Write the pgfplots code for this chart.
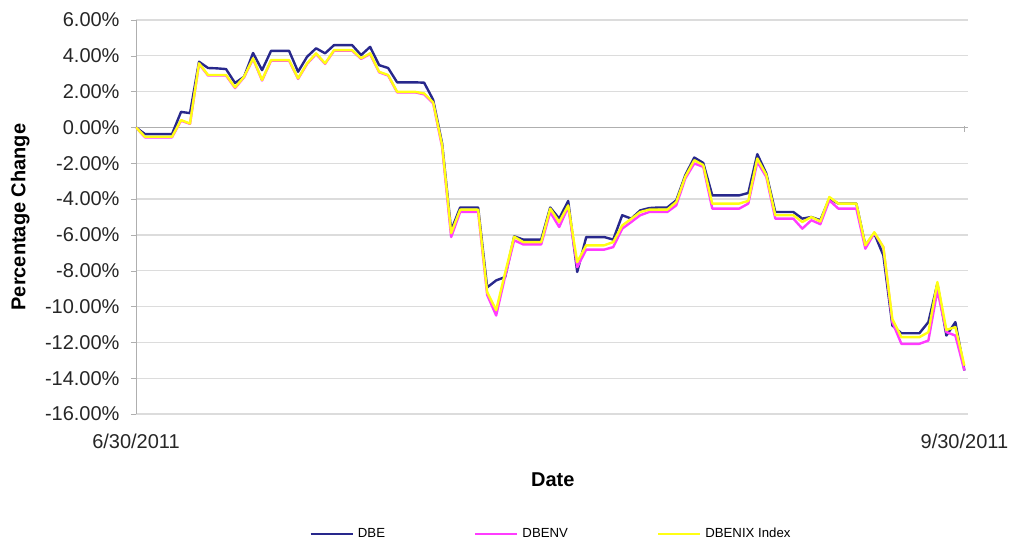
\documentclass[border=0pt]{standalone}
\usepackage{pgfplots}
\pgfplotsset{compat=1.18}
\usepackage{pgfplotstable}
\usepackage{fontspec}
\setmainfont{Liberation Sans}
\definecolor{dbe}{RGB}{40,40,140}
\definecolor{dbenv}{RGB}{255,60,255}
\definecolor{dbenix}{RGB}{255,255,20}
\definecolor{gridc}{RGB}{220,220,220}
\definecolor{axc}{RGB}{175,175,175}
\pgfplotstableread{
d dbe dbenv dbenix
0 0 0 0
1 -0.37 -0.55 -0.52
2 -0.37 -0.55 -0.52
3 -0.37 -0.55 -0.52
4 -0.37 -0.55 -0.52
5 0.87 0.38 0.41
6 0.80 0.20 0.22
7 3.67 3.55 3.58
8 3.32 2.90 2.93
9 3.30 2.90 2.93
10 3.26 2.90 2.93
11 2.48 2.20 2.24
12 2.83 2.80 2.83
13 4.16 3.83 3.86
14 3.20 2.62 2.65
15 4.28 3.73 3.76
16 4.28 3.73 3.76
17 4.28 3.73 3.76
18 3.11 2.71 2.74
19 3.95 3.55 3.58
20 4.42 4.10 4.14
21 4.14 3.55 3.58
22 4.60 4.29 4.32
23 4.60 4.29 4.32
24 4.60 4.29 4.32
25 4.04 3.83 3.86
26 4.50 4.10 4.14
27 3.48 3.08 3.11
28 3.32 2.90 2.93
29 2.52 1.96 1.99
30 2.52 1.96 1.99
31 2.52 1.96 1.99
32 2.50 1.85 1.90
33 1.55 1.35 1.40
34 -0.90 -1.10 -1.00
35 -5.74 -6.12 -5.90
36 -4.47 -4.72 -4.59
37 -4.47 -4.72 -4.59
38 -4.47 -4.72 -4.59
39 -8.93 -9.35 -9.20
40 -8.54 -10.50 -10.20
41 -8.35 -8.30 -8.10
42 -6.08 -6.30 -6.10
43 -6.26 -6.53 -6.40
44 -6.26 -6.53 -6.40
45 -6.26 -6.53 -6.40
46 -4.47 -4.72 -4.53
47 -5.09 -5.56 -5.28
48 -4.10 -4.44 -4.35
49 -8.07 -7.80 -7.52
50 -6.12 -6.82 -6.58
51 -6.12 -6.82 -6.58
52 -6.12 -6.82 -6.58
53 -6.26 -6.68 -6.40
54 -4.90 -5.65 -5.47
55 -5.09 -5.28 -5.10
56 -4.63 -4.90 -4.72
57 -4.50 -4.72 -4.59
58 -4.47 -4.72 -4.59
59 -4.47 -4.72 -4.59
60 -4.07 -4.35 -4.16
61 -2.67 -2.85 -2.75
62 -1.68 -2.01 -1.83
63 -1.98 -2.20 -2.10
64 -3.79 -4.53 -4.25
65 -3.79 -4.53 -4.25
66 -3.79 -4.53 -4.25
67 -3.79 -4.53 -4.25
68 -3.66 -4.25 -4.10
69 -1.49 -1.92 -1.73
70 -2.57 -2.76 -2.65
71 -4.72 -5.09 -4.90
72 -4.72 -5.09 -4.90
73 -4.72 -5.09 -4.90
74 -5.09 -5.65 -5.28
75 -5.00 -5.18 -5.00
76 -5.18 -5.40 -5.25
77 -3.97 -4.07 -3.88
78 -4.25 -4.53 -4.25
79 -4.25 -4.53 -4.25
80 -4.25 -4.53 -4.25
81 -6.58 -6.77 -6.58
82 -5.93 -5.89 -5.85
83 -7.14 -6.68 -6.68
84 -11.06 -10.87 -10.70
85 -11.49 -12.08 -11.71
86 -11.49 -12.08 -11.71
87 -11.49 -12.08 -11.71
88 -10.87 -11.90 -11.43
89 -8.72 -9.10 -8.63
90 -11.62 -11.43 -11.30
91 -10.87 -11.62 -11.15
92 -13.57 -13.57 -13.30
}\datatable
\begin{document}
\begin{tikzpicture}
\path[use as bounding box] (-68pt,-64pt) rectangle (437.5pt,207pt);
\begin{axis}[
  at={(0pt,0pt)}, anchor=south west,
  scale only axis, width=416pt, height=197pt,
  xmin=0, xmax=92.4, ymin=-16, ymax=6,
  axis lines*=left,
  x axis line style={draw=none},
  y axis line style={draw=axc},
  ytick={-16,-14,...,6},
  yticklabels={-16.00\%,-14.00\%,-12.00\%,-10.00\%,-8.00\%,-6.00\%,-4.00\%,-2.00\%,0.00\%,2.00\%,4.00\%,6.00\%},
  xtick={0,92}, xticklabels={6/30/2011,9/30/2011},
  x tick style={draw=none},
  y tick style={draw=axc},
  tick align=outside, major tick length=2.5pt,
  ymajorgrids, grid style={gridc, line width=0.6pt},
  tick label style={font=\fontsize{10}{12}\selectfont, text=black!85},
  yticklabel style={xshift=-2.2pt},
  xticklabel style={yshift=-4pt},
  ylabel={\textbf{Percentage Change}},
  ylabel style={at={(axis description cs:-0.139,0.5)}, anchor=center, font=\fontsize{10}{12}\selectfont},
  xlabel={\textbf{Date}},
  xlabel style={at={(axis description cs:0.501,-0.1675)}, anchor=center, font=\fontsize{10}{12}\selectfont},
  legend columns=3,
  legend style={at={(axis description cs:0.5,-0.305)}, anchor=center, draw=none, fill=none,
    font=\fontsize{6.6}{7}\selectfont,
    /tikz/every even column/.append style={column sep=42.5pt}},
  legend image code/.code={\draw[#1] (0pt,0pt) -- (21pt,0pt);},
  every axis plot/.append style={line width=1.2pt, line join=round},
]
\draw[axc, line width=0.7pt] (axis cs:0,0) -- (axis cs:92.4,0);
\draw[axc, line width=0.6pt] ([yshift=0.5pt]axis cs:92,0) -- ([yshift=-2.5pt]axis cs:92,0);
\addplot[dbe, no marks] table[x=d, y=dbe] {\datatable};
\addlegendentry{DBE}
\addplot[dbenv, no marks] table[x=d, y=dbenv] {\datatable};
\addlegendentry{DBENV}
\addplot[dbenix, no marks] table[x=d, y=dbenix] {\datatable};
\addlegendentry{DBENIX Index}
\end{axis}
\end{tikzpicture}
\end{document}
